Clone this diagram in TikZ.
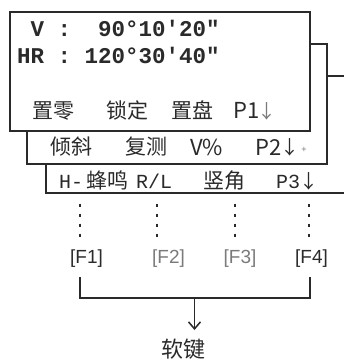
\documentclass[tikz,border=0pt]{standalone}
\usepackage{fontspec}
\usetikzlibrary{arrows.meta}
\newfontfamily\cjk{Noto Sans CJK SC}
\newfontfamily\monof[Ligatures=TeXOff]{Liberation Mono}
\newfontfamily\sansf{Liberation Sans}
\definecolor{ink}{HTML}{2A2A2A}
\definecolor{soft}{HTML}{7A7A7A}
\begin{document}
\begin{tikzpicture}[x=1pt,y=-1pt,
  screen/.style={draw=ink, line width=1.8pt, fill=white, rectangle, inner sep=0pt},
  cn/.style={font=\cjk\fontsize{21}{21}\selectfont, text=ink, inner sep=0pt, anchor=base},
  lat/.style={font=\cjk\fontsize{22}{22}\selectfont, text=ink, inner sep=0pt, anchor=base west},
  arrowtxt/.style={font=\cjk\fontsize{19}{19}\selectfont, text=ink, inner sep=0pt, anchor=base},
  monobig/.style={font=\monof\bfseries\fontsize{22.5}{22.5}\selectfont, text=ink, inner sep=0pt, anchor=base west},
  monosm/.style={font=\monof\fontsize{20}{20}\selectfont, text=ink, inner sep=0pt, anchor=base west},
  fkey/.style={font=\sansf\fontsize{19}{19}\selectfont, inner sep=0pt},
  dots/.style={draw=ink, line width=2pt, dash pattern=on 3pt off 7pt},
  bracket/.style={draw=ink, line width=1.5pt}
]
\useasboundingbox (0,0) rectangle (344,361);
\clip (0,0) rectangle (344,361);

% stacked screens
\node[screen, minimum width=306pt, minimum height=117pt] (s3) at (199,134.5) {};
\node[screen, minimum width=300pt, minimum height=120pt] (s2) at (177,104) {};
\node[screen, minimum width=300pt, minimum height=119pt] (s1) at (160,71.5) {};

% screen 1
\node[monobig] (v) at (30.5,37) {V :};
\node[monobig] (vval) at (98,37) {90°10'20"};
\node[monobig] (hr) at (17,63.5) {HR : 120°30'40"};
\node[cn] (k11) at (53.5,118) {置零};
\node[cn] (k12) at (127.5,118) {锁定};
\node[cn] (k13) at (192.5,118) {置盘};
\node[lat] (p1) at (233,118.5) {P1};
\node[arrowtxt, text=soft] (p1a) at (267,118) {↓};

% screen 2
\node[cn] (k21) at (71,154.5) {倾斜};
\node[cn] (k22) at (146,154.5) {复测};
\node[lat] (k23) at (190,155) {V\%};
\node[lat] (p2) at (255,155) {P2};
\node[arrowtxt] (p2a) at (290,154.5) {↓};
\node[font=\sansf\fontsize{9}{9}\selectfont, text=soft, inner sep=0pt] (plus) at (304,150) {+};

% screen 3
\node[monosm] (h) at (59,188) {H-};
\node[cn] (k31) at (107,188.5) {蜂鸣};
\node[monosm] (rl) at (136,188) {R/L};
\node[cn] (k32) at (224,188.5) {竖角};
\node[monosm] (p3) at (276,188) {P3};
\node[arrowtxt] (p3a) at (309,188) {↓};

% dotted leaders
\foreach \i/\x in {1/80,2/157,3/235,4/309}{
  \coordinate (d\i) at (\x,203.5);
  \coordinate (e\i) at (\x,240);
  \draw[dots] (d\i) -- (e\i);
}

% function keys
\node[fkey, text=ink] (f1) at (86.5,258.5) {[F1]};
\node[fkey, text=soft] (f2) at (168.5,258.5) {[F2]};
\node[fkey, text=soft] (f3) at (240,258.5) {[F3]};
\node[fkey, text=ink] (f4) at (311.5,258.5) {[F4]};

% bracket and arrow
\coordinate (b1) at (80,277);
\coordinate (b4) at (310,277);
\coordinate (c1) at (80,298);
\coordinate (c4) at (310,298);
\coordinate (j) at (194.5,298);
\coordinate (tip) at (194.5,330);
\draw[bracket] (b1) -- (c1) -- (c4) -- (b4);
\draw[bracket, -{Straight Barb[length=7pt,width=12pt]}] (j) -- (tip);
\node[font=\cjk\fontsize{22}{22}\selectfont, text=ink, inner sep=0pt] (sk) at (183.5,349) {软键};
\end{tikzpicture}
\end{document}
